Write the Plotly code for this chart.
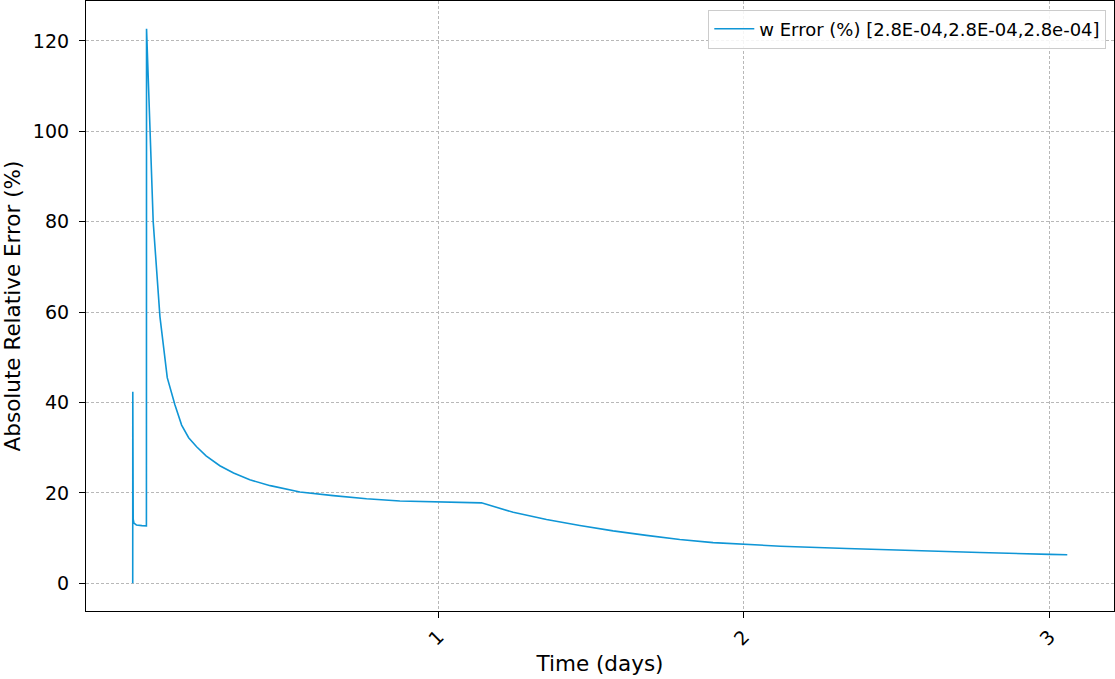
import plotly.graph_objects as go

# Data
time_days = [0.0, 0.0002, 0.0006, 0.0015, 0.004, 0.012, 0.03, 0.0448, 0.0452,
             0.067, 0.089, 0.113, 0.138, 0.16, 0.183, 0.209, 0.24, 0.285, 0.33,
             0.383, 0.45, 0.547, 0.656, 0.765, 0.874, 1.0, 1.141, 1.245, 1.354,
             1.463, 1.572, 1.681, 1.79, 1.899, 2.003, 2.12, 2.336, 2.554, 2.772,
             3.0, 3.058]
w_error_pct = [0.0, 42.4, 16.5, 14.2, 13.3, 12.9, 12.75, 12.7, 122.7,
               80.0, 59.0, 45.5, 39.5, 35.0, 32.2, 30.2, 28.2, 26.0, 24.4,
               22.9, 21.6, 20.2, 19.4, 18.7, 18.2, 18.0, 17.8, 15.7, 14.1,
               12.8, 11.6, 10.6, 9.7, 9.0, 8.6, 8.2, 7.7, 7.2, 6.8,
               6.4, 6.3]
x_ticks = [1, 2, 3]
y_ticks = [0, 20, 40, 60, 80, 100, 120]
series_name = "w Error (%) [2.8E-04,2.8E-04,2.8e-04]"

FONT = "DejaVu Sans"
LINE_COLOR = "#0f96d6"

fig = go.Figure()
fig.add_trace(go.Scatter(
    x=time_days, y=w_error_pct, mode="lines", name=series_name,
    line=dict(color=LINE_COLOR, width=1.6),
    showlegend=True,
))

xmin, xmax = min(time_days), max(time_days)
ymin, ymax = min(w_error_pct), max(w_error_pct)
xpad = 0.05 * (xmax - xmin)
ypad = 0.05 * (ymax - ymin)

axis_common = dict(
    showline=True, linecolor="black", linewidth=1.2, mirror=True,
    ticks="outside", ticklen=6, tickwidth=1, tickcolor="black",
    showgrid=True, gridcolor="#b8b8b8", griddash="3px,2px", gridwidth=0.8,
    zeroline=False, automargin=False,
    tickfont=dict(family=FONT, size=19, color="black"),
)

fig.update_layout(
    width=1115, height=679,
    margin=dict(l=86, r=1, t=1, b=68),
    paper_bgcolor="white", plot_bgcolor="white",
    font=dict(family=FONT, color="black"),
    xaxis=dict(
        range=[xmin - xpad, xmax + xpad],
        tickmode="array", tickvals=x_ticks, ticktext=[str(v) for v in x_ticks],
        tickangle=-45,
        title=dict(text="Time (days)", font=dict(family=FONT, size=21.5), standoff=7),
        **axis_common,
    ),
    yaxis=dict(
        range=[ymin - ypad, ymax + ypad],
        tickmode="array", tickvals=y_ticks, ticktext=[str(v) for v in y_ticks],
        ticklabelstandoff=6,
        title=dict(text="Absolute Relative Error (%)", font=dict(family=FONT, size=21.5), standoff=6),
        **axis_common,
    ),
    legend=dict(
        x=0.9925, y=0.986, xanchor="right", yanchor="top",
        bgcolor="rgba(255,255,255,0.85)", bordercolor="#cccccc", borderwidth=1,
        font=dict(family=FONT, size=18, color="black"),
        itemwidth=40,
    ),
)

fig.write_html("out.html", config={"displayModeBar": False})

# remove the browser's default page margin so the figure sits at (0, 0)
with open("out.html", "r", encoding="utf-8") as f:
    html = f.read()
html = html.replace("<head>", "<head><style>html,body{margin:0;padding:0;overflow:hidden;}</style>", 1)
with open("out.html", "w", encoding="utf-8") as f:
    f.write(html)
